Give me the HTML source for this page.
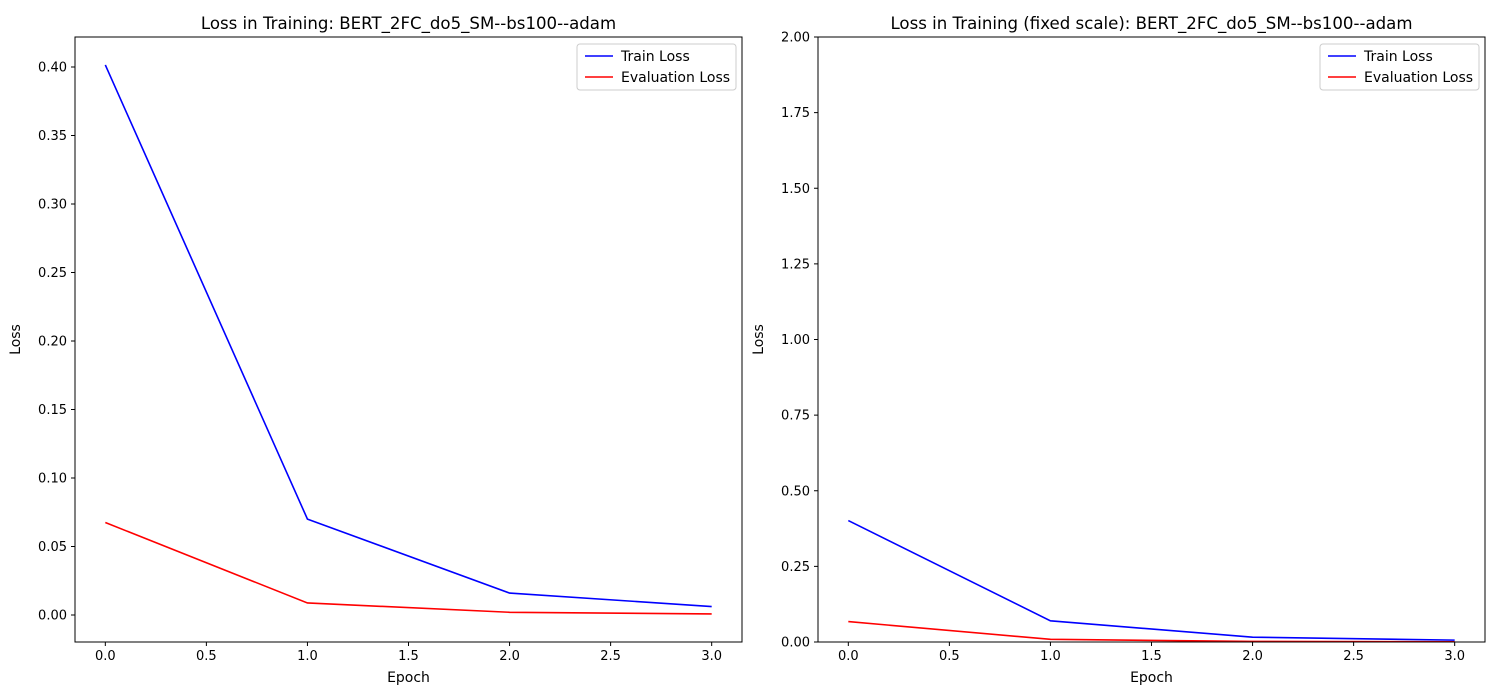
<!DOCTYPE html>
<html><head><meta charset="utf-8">
<style>
body{margin:0;background:#fff;}
svg{display:block;font-family:"DejaVu Sans","Liberation Sans",sans-serif;}
</style></head>
<body>
<svg id="chart" width="1500" height="700" xmlns="http://www.w3.org/2000/svg"></svg>
<script>
const epochs = [0, 1, 2, 3];
const trainLoss = [0.4015, 0.0700, 0.0160, 0.0062];
const evalLoss = [0.0675, 0.0088, 0.0020, 0.0008];
const leftYTicks = [0.00, 0.05, 0.10, 0.15, 0.20, 0.25, 0.30, 0.35, 0.40];
const rightYTicks = [0.00, 0.25, 0.50, 0.75, 1.00, 1.25, 1.50, 1.75, 2.00];
const xTicks = [0.0, 0.5, 1.0, 1.5, 2.0, 2.5, 3.0];

const NS = "http://www.w3.org/2000/svg";
const svg = document.getElementById('chart');
function el(tag, attrs, parent){
  const e = document.createElementNS(NS, tag);
  for (const k in attrs) e.setAttribute(k, attrs[k]);
  (parent||svg).appendChild(e);
  return e;
}
function panel(name, L, R, T, B, ymin, ymax, yTicks, yFmt, title){
  const g = el('g', {});
  
  
  const xmin = -0.15, xmax = 3.15;
  const sx = v => L + (v - xmin) / (xmax - xmin) * (R - L);
  const sy = v => B - (v - ymin) / (ymax - ymin) * (B - T);
  xTicks.forEach(t => {
    const x = sx(t);
    el('line', {x1:x, x2:x, y1:B, y2:B+4, stroke:'#000', 'stroke-width':1}, g);
    const tx = el('text', {x:x, y:B+18, 'font-size':13, 'text-anchor':'middle'}, g);
    tx.textContent = t.toFixed(1);
    
    
  });
  yTicks.forEach(t => {
    const y = sy(t);
    el('line', {x1:L-4, x2:L, y1:y, y2:y, stroke:'#000', 'stroke-width':1}, g);
    const tx = el('text', {x:L-8, y:y+4.5, 'font-size':13, 'text-anchor':'end'}, g);
    tx.textContent = t.toFixed(2);
    
    
  });
  const series = [[trainLoss, '#0000ff', 'train-loss-line'], [evalLoss, '#ff0000', 'eval-loss-line']];
  series.forEach(([vals, c, n]) => {
    const p = el('polyline', {points: vals.map((v,i)=>sx(epochs[i])+','+sy(v)).join(' '), fill:'none', stroke:c, 'stroke-width':1.6}, g);
    
    
  });
  el('rect', {x:L, y:T, width:R-L, height:B-T, fill:'none', stroke:'#000', 'stroke-width':1}, g);
  const tt = el('text', {x:(L+R)/2, y:T-8, 'font-size':16.6, 'text-anchor':'middle'}, g);
  tt.textContent = title;
  
  
  const xl = el('text', {x:(L+R)/2, y:B+40, 'font-size':14, 'text-anchor':'middle'}, g);
  xl.textContent = 'Epoch';
  
  
  const yl = el('text', {x:0, y:0, 'font-size':14, 'text-anchor':'middle', transform:`translate(${L-55},${(T+B)/2}) rotate(-90)`}, g);
  yl.textContent = 'Loss';
  
  
  const lg = el('g', {}, g);
  
  
  const lx = R - 165, ly = T + 7;
  el('rect', {x:lx, y:ly, width:159, height:46, rx:3, fill:'#fff', stroke:'#ccc', 'stroke-width':1}, lg);
  [['Train Loss','#0000ff'],['Evaluation Loss','#ff0000']].forEach(([t,c],i)=>{
    const yy = ly + 12 + i*21;
    el('line', {x1:lx+8, x2:lx+36, y1:yy, y2:yy, stroke:c, 'stroke-width':1.6}, lg);
    const lt = el('text', {x:lx+44, y:yy+5, 'font-size':14}, lg);
    lt.textContent = t;
    
    
  });
}
panel('left-chart', 75, 742, 37, 642, -0.0197, 0.4219, leftYTicks, 2, 'Loss in Training: BERT_2FC_do5_SM--bs100--adam');
panel('right-chart', 818, 1485, 37, 642, 0, 2.0, rightYTicks, 2, 'Loss in Training (fixed scale): BERT_2FC_do5_SM--bs100--adam');
</script>
</body></html>
